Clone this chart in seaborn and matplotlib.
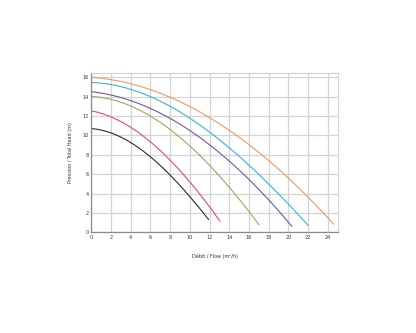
import matplotlib
matplotlib.use("Agg")
import matplotlib.pyplot as plt
import seaborn as sns
import pandas as pd

# Pump curves: flow (m3/h) vs head (m)
black_x = [0, 2, 4, 6, 8, 10, 11.9]
black_y = [10.7, 10.2, 9.35, 7.7, 5.9, 3.7, 1.3]
red_x = [0, 2, 4, 6, 8, 10, 12, 13.05]
red_y = [12.55, 11.8, 10.9, 9.4, 7.3, 5.2, 2.7, 1.1]
green_x = [0, 2, 4, 6, 8, 10, 12, 14, 16, 17.0]
green_y = [14.05, 13.7, 12.9, 11.9, 10.7, 9.1, 6.9, 4.4, 2.1, 0.9]
purple_x = [0, 2, 4, 6, 8, 10, 12, 14, 16, 18, 20, 20.35]
purple_y = [14.5, 14.2, 13.5, 12.7, 11.8, 10.6, 9.0, 7.3, 5.4, 3.3, 1.3, 0.4]
cyan_x = [0, 2, 4, 6, 8, 10, 12, 14, 16, 18, 20, 22]
cyan_y = [15.5, 15.2, 14.7, 13.9, 13.0, 11.9, 10.4, 8.7, 6.8, 4.9, 3.0, 0.7]
orange_x = [0, 2, 4, 6, 8, 10, 12, 14, 16, 18, 20, 22, 24, 24.6]
orange_y = [16.0, 15.8, 15.2, 14.6, 14.0, 13.1, 11.9, 10.4, 9.0, 7.3, 5.6, 3.7, 1.6, 0.7]

series_names = ["black", "red", "green", "purple", "cyan", "orange"]
series_x = [black_x, red_x, green_x, purple_x, cyan_x, orange_x]
series_y = [black_y, red_y, green_y, purple_y, cyan_y, orange_y]
palette = {"black": "#2b2b2b", "red": "#d9505f", "green": "#9aab5a",
           "purple": "#6f5a9a", "cyan": "#35b4e2", "orange": "#ec9a62"}

x_ticks = [0, 2, 4, 6, 8, 10, 12, 14, 16, 18, 20, 22, 24]
y_ticks = [0, 2, 4, 6, 8, 10, 12, 14, 16]
x_label = "Débit / Flow (m³/h)"
y_label = "Pression / Total Head (m)"

sns.set_theme(style="white")
plt.rcParams["font.family"] = ["DejaVu Sans"]

fig = plt.figure(figsize=(4.16, 3.33), dpi=100)
ax = fig.add_axes([0.2195, 0.3024, 0.5923, 0.4776])

for name, xs, ys in zip(series_names, series_x, series_y):
    d = pd.DataFrame({"flow": xs, "head": ys})
    sns.regplot(data=d, x="flow", y="head", order=3, ci=None, scatter=False,
                truncate=True, color=palette[name],
                line_kws={"linewidth": 0.8}, ax=ax)

ax.set_xlim(0, 25)
ax.set_ylim(0, 16.4)
ax.set_xticks(x_ticks)
ax.set_yticks(y_ticks)
ax.tick_params(axis="both", labelsize=3.5, length=0, pad=2, colors="#333333")
ax.grid(True, color="#d4d4d4", linewidth=0.9)
ax.set_axisbelow(True)
for side in ["top", "right"]:
    ax.spines[side].set_color("#d4d4d4")
    ax.spines[side].set_linewidth(0.9)
for side in ["left", "bottom"]:
    ax.spines[side].set_color("#8a8a8a")
    ax.spines[side].set_linewidth(0.9)
ax.set_xlabel(x_label, fontsize=3.5, labelpad=10, color="#333333")
ax.set_ylabel(y_label, fontsize=3.5, labelpad=7, color="#333333")

fig.savefig("out.png", dpi=100, facecolor="white")
